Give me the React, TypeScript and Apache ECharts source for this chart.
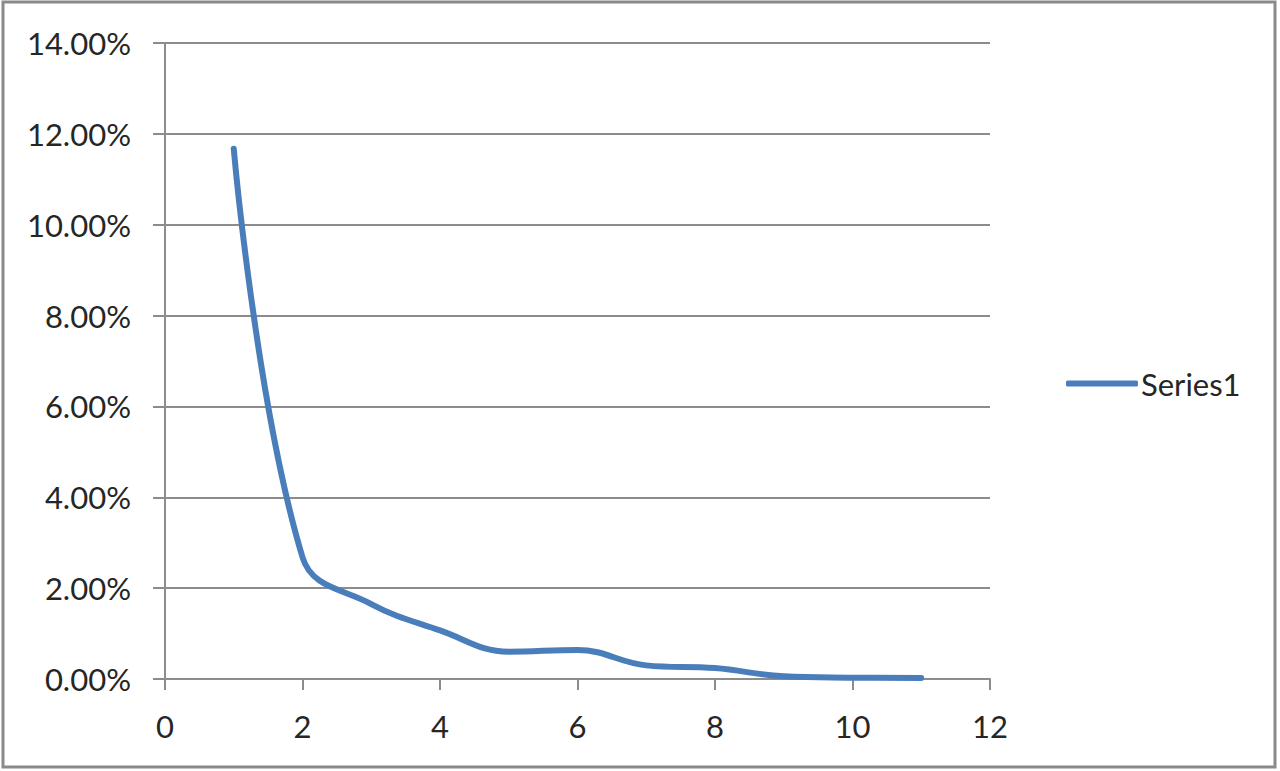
import React, { useEffect, useRef } from "react";
import * as echarts from "echarts";

const xValues = [1, 2, 3, 4, 5, 6, 7, 8, 9, 10, 11];
const seriesValues = [11.67, 2.68, 1.65, 1.07, 0.6, 0.64, 0.3, 0.24, 0.06, 0.03, 0.02];
const seriesName = "Series1";
const yTicks = [0, 2, 4, 6, 8, 10, 12, 14];
const xTicks = [0, 2, 4, 6, 8, 10, 12];

const FONT = "Lato";
const TEXT = "#262626";
const GRIDC = "#8c8c8c";
const BLUE = "#4A7EBB";

export default function App() {
  const ref = useRef<HTMLDivElement>(null);
  useEffect(() => {
    document.body.style.margin = "0";
    const chart = echarts.init(ref.current!, null, { renderer: "svg" });
    chart.setOption({
      animation: false,
      backgroundColor: "#ffffff",
      textStyle: { fontFamily: FONT },
      grid: {
        left: 165,
        right: 290,
        top: 43,
        bottom: 92,
        outerBoundsMode: "none",
        containLabel: false,
      },
      xAxis: {
        type: "value",
        min: xTicks[0],
        max: xTicks[xTicks.length - 1],
        interval: 2,
        axisLine: { show: true, lineStyle: { color: GRIDC, width: 2 } },
        axisTick: { show: true, length: 11, lineStyle: { color: GRIDC, width: 2 } },
        splitLine: { show: false },
        axisLabel: { color: TEXT, fontSize: 31, fontFamily: FONT, margin: 31 },
      },
      yAxis: {
        type: "value",
        min: yTicks[0],
        max: yTicks[yTicks.length - 1],
        interval: 2,
        axisLine: { show: true, lineStyle: { color: GRIDC, width: 2 } },
        axisTick: { show: true, length: 12, lineStyle: { color: GRIDC, width: 2 } },
        splitLine: { show: true, lineStyle: { color: GRIDC, width: 2 } },
        axisLabel: {
          color: TEXT,
          fontSize: 31,
          fontFamily: FONT,
          margin: 34,
          formatter: (v: number) => v.toFixed(2) + "%",
        },
      },
      legend: {
        orient: "vertical",
        left: 1061,
        top: 363,
        itemWidth: 72,
        itemHeight: 6,
        textStyle: { color: TEXT, fontSize: 31, fontFamily: FONT, padding: [0, 0, 0, -2] },
        data: [{ name: seriesName, icon: "roundRect", itemStyle: { color: BLUE } }],
      },
      graphic: [
        {
          type: "rect",
          shape: { x: 3, y: 2, width: 1272, height: 765 },
          style: { fill: "none", stroke: "#8a8a8a", lineWidth: 3 },
          silent: true,
        },
      ],
      series: [
        {
          name: seriesName,
          type: "line",
          data: xValues.map((x, i) => [x, seriesValues[i]]),
          smooth: 0.4,
          symbol: "none",
          lineStyle: { color: BLUE, width: 6, cap: "round" },
          itemStyle: { color: BLUE },
        },
      ],
    });
    return () => chart.dispose();
  }, []);
  return <div ref={ref} style={{ width: 1280, height: 771 }} />;
}
